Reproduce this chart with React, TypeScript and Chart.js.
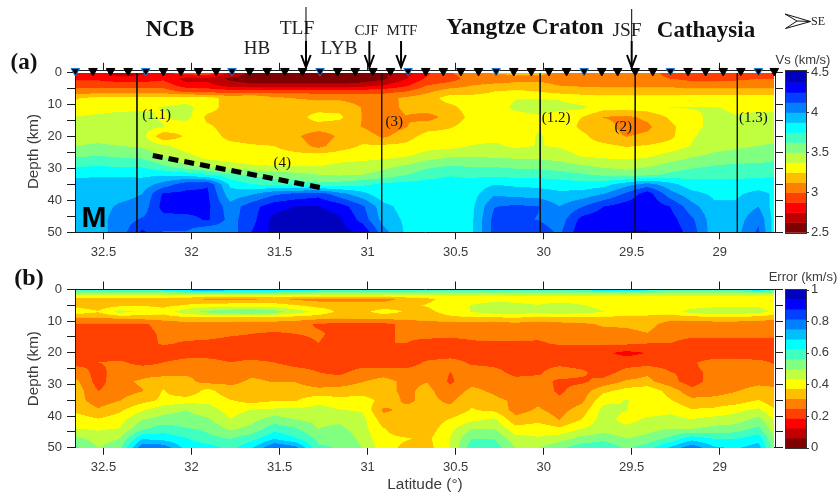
import React, { useEffect, useRef } from "react";
import { Chart, registerables } from "chart.js";

Chart.register(...registerables);

const latitudes = [32.66,32.53,32.41,32.28,32.16,32.03,31.91,31.78,31.66,31.53,31.41,31.28,31.16,31.03,30.91,30.78,30.66,30.53,30.41,30.28,30.16,30.03,29.91,29.78,29.66,29.53,29.41,29.28,29.16,29.03,28.91,28.78,28.68];
const vsDepths = [0,2,4,6,8,11,14,17,20,23,26,29,32,35,38,42,46,50];
const vsGrid = [
[2.82,2.8,2.66,2.72,2.85,2.95,3.0,2.75,2.6,2.55,2.55,2.55,2.55,2.55,2.6,2.7,2.85,3.0,3.05,3.15,3.15,3.15,3.1,3.1,3.1,3.1,3.05,2.95,2.9,2.9,2.9,2.9,2.9],
[2.85,2.85,2.8,2.8,2.85,2.7,2.7,2.6,2.55,2.55,2.55,2.55,2.55,2.55,2.6,2.75,2.9,2.95,3.05,3.05,3.1,3.1,3.1,3.05,3.0,3.05,3.05,3.0,2.97,2.97,2.98,3.0,3.0],
[2.95,2.95,2.95,2.95,2.95,2.8,2.8,2.68,2.66,2.65,2.65,2.65,2.65,2.68,2.75,2.85,3.0,3.05,3.12,3.15,3.15,3.15,3.12,3.1,3.1,3.1,3.1,3.1,3.05,3.05,3.05,3.05,3.05],
[3.06,3.06,3.06,3.06,3.06,2.98,2.95,2.95,2.95,2.95,2.95,2.95,2.95,2.95,2.96,3.0,3.1,3.2,3.2,3.25,3.28,3.25,3.2,3.2,3.18,3.18,3.18,3.18,3.2,3.2,3.2,3.2,3.2],
[3.24,3.28,3.3,3.3,3.3,3.3,3.3,3.2,3.25,3.15,3.12,3.1,3.1,3.08,3.08,3.15,3.2,3.3,3.3,3.3,3.37,3.37,3.36,3.3,3.3,3.3,3.3,3.3,3.3,3.3,3.3,3.3,3.3],
[3.3,3.32,3.34,3.36,3.38,3.42,3.3,3.2,3.2,3.2,3.2,3.2,3.2,3.12,3.07,3.15,3.2,3.22,3.3,3.32,3.4,3.42,3.42,3.4,3.3,3.3,3.32,3.38,3.38,3.38,3.36,3.33,3.33],
[3.38,3.4,3.42,3.4,3.36,3.42,3.22,3.2,3.2,3.2,3.2,3.3,3.28,3.12,3.06,3.12,3.07,3.18,3.28,3.32,3.33,3.36,3.3,3.25,3.12,3.1,3.15,3.27,3.35,3.4,3.38,3.42,3.42],
[3.44,3.44,3.45,3.42,3.38,3.3,3.27,3.2,3.2,3.2,3.2,3.2,3.18,3.12,3.04,3.12,3.2,3.24,3.3,3.3,3.32,3.37,3.34,3.22,3.18,3.08,3.1,3.22,3.33,3.42,3.44,3.44,3.44],
[3.44,3.45,3.44,3.42,3.15,3.27,3.3,3.22,3.2,3.2,3.15,3.04,3.15,3.2,3.1,3.2,3.3,3.3,3.32,3.33,3.34,3.38,3.36,3.28,3.18,3.12,3.15,3.22,3.36,3.44,3.44,3.44,3.46],
[3.5,3.52,3.5,3.48,3.4,3.32,3.3,3.28,3.26,3.25,3.2,3.08,3.2,3.26,3.27,3.28,3.33,3.33,3.38,3.4,3.35,3.38,3.36,3.3,3.28,3.24,3.26,3.3,3.38,3.46,3.48,3.5,3.52],
[3.6,3.62,3.6,3.58,3.48,3.4,3.33,3.32,3.3,3.29,3.28,3.3,3.3,3.31,3.32,3.36,3.42,3.47,3.48,3.47,3.46,3.46,3.44,3.36,3.34,3.32,3.35,3.42,3.48,3.52,3.54,3.56,3.58],
[3.72,3.74,3.72,3.72,3.62,3.5,3.44,3.4,3.38,3.36,3.35,3.36,3.4,3.42,3.46,3.5,3.58,3.62,3.6,3.6,3.58,3.56,3.54,3.5,3.46,3.45,3.47,3.54,3.58,3.62,3.64,3.64,3.66],
[3.85,3.86,3.86,3.85,3.85,3.83,3.75,3.65,3.6,3.56,3.54,3.5,3.48,3.5,3.54,3.62,3.7,3.74,3.72,3.72,3.7,3.7,3.68,3.64,3.6,3.55,3.6,3.65,3.7,3.72,3.72,3.72,3.74],
[3.92,3.92,3.92,3.93,4.05,4.2,4.24,3.85,3.75,3.72,3.7,3.65,3.68,3.72,3.78,3.8,3.8,3.8,3.8,3.87,3.85,3.84,3.82,3.8,3.82,3.95,4.05,3.92,3.8,3.78,3.79,3.8,3.8],
[3.93,3.94,3.95,4.0,4.27,4.28,4.27,3.92,3.98,4.1,4.15,4.2,4.05,3.92,3.78,3.78,3.78,3.8,3.82,3.98,3.95,3.93,3.9,3.92,4.0,4.15,4.32,4.05,3.92,3.85,3.85,3.92,3.85],
[3.94,3.95,4.02,4.05,4.3,4.32,4.28,4.05,4.2,4.33,4.38,4.38,4.32,4.15,3.92,3.82,3.78,3.8,3.84,4.12,4.15,4.13,4.0,4.12,4.25,4.32,4.34,4.25,4.05,3.9,3.9,4.0,3.8],
[3.95,3.96,4.05,4.14,4.2,4.2,4.27,4.08,4.2,4.42,4.44,4.44,4.4,4.2,3.95,3.85,3.78,3.8,3.85,4.17,4.15,4.12,4.05,4.3,4.34,4.34,4.35,4.3,4.15,3.92,3.93,4.1,3.8],
[3.95,3.96,4.05,4.28,4.12,4.12,4.0,4.05,4.25,4.42,4.44,4.44,4.42,4.36,4.05,3.85,3.78,3.8,3.85,4.17,4.25,4.2,4.1,4.35,4.38,4.38,4.38,4.33,4.2,3.92,3.95,4.15,3.78],
];

const errDepths = [0,1.5,3,5,7,9,11,14,17,20,23,26,29,32,35,38,41,44,47,50];
const errGrid = [
[.62,.62,.64,.64,.66,.72,.78,.72,.72,.72,.7,.66,.65,.65,.65,.64,.62,.62,.62,.62,.62,.62,.62,.64,.7,.72,.66,.6,.6,.6,.6,.7,.6],
[.46,.46,.46,.46,.46,.46,.46,.46,.46,.46,.46,.46,.46,.46,.46,.46,.45,.45,.45,.45,.45,.45,.45,.45,.45,.45,.45,.45,.45,.45,.45,.45,.45],
[.35,.35,.35,.35,.35,.34,.3,.3,.3,.33,.3,.29,.29,.29,.29,.33,.36,.4,.4,.41,.42,.41,.41,.41,.41,.41,.41,.41,.41,.41,.41,.41,.41],
[.36,.34,.36,.37,.36,.38,.4,.41,.41,.4,.38,.35,.35,.34,.34,.36,.38,.41,.44,.47,.45,.44,.46,.44,.42,.41,.41,.41,.41,.42,.42,.43,.41],
[.41,.38,.46,.43,.4,.48,.52,.55,.56,.53,.47,.42,.36,.36,.4,.37,.36,.4,.44,.47,.47,.46,.47,.46,.44,.42,.41,.41,.46,.48,.48,.46,.42],
[.31,.31,.32,.33,.34,.35,.35,.35,.35,.34,.34,.33,.32,.33,.33,.33,.34,.36,.36,.36,.37,.35,.36,.36,.36,.35,.35,.33,.34,.35,.35,.34,.32],
[.24,.24,.24,.24,.27,.29,.29,.29,.28,.29,.28,.24,.23,.23,.23,.27,.28,.28,.29,.28,.29,.28,.29,.3,.32,.32,.33,.29,.28,.28,.28,.28,.28],
[.23,.23,.23,.23,.26,.28,.28,.26,.25,.24,.25,.26,.23,.23,.24,.26,.27,.27,.27,.28,.28,.27,.28,.28,.29,.3,.31,.28,.27,.27,.27,.27,.27],
[.22,.22,.22,.22,.26,.24,.23,.22,.22,.22,.22,.25,.22,.22,.25,.25,.23,.22,.24,.24,.24,.24,.26,.26,.26,.26,.25,.25,.22,.22,.22,.22,.22],
[.21,.21,.21,.21,.2,.21,.21,.21,.2,.2,.2,.2,.2,.19,.19,.2,.21,.21,.21,.2,.21,.2,.2,.2,.2,.17,.19,.2,.2,.2,.2,.2,.21],
[.23,.25,.26,.23,.25,.28,.28,.25,.27,.25,.22,.22,.21,.21,.2,.22,.26,.28,.24,.23,.22,.23,.23,.22,.21,.22,.22,.22,.24,.28,.28,.27,.24],
[.28,.23,.28,.29,.28,.3,.3,.27,.3,.3,.28,.25,.23,.28,.29,.27,.28,.25,.28,.27,.23,.24,.28,.26,.22,.27,.3,.25,.24,.26,.29,.29,.28],
[.33,.22,.3,.32,.35,.33,.29,.3,.32,.31,.31,.28,.29,.31,.33,.3,.31,.24,.29,.29,.27,.27,.24,.24,.27,.32,.33,.27,.22,.28,.29,.3,.3],
[.35,.25,.29,.31,.38,.32,.4,.33,.33,.35,.34,.33,.33,.34,.33,.3,.33,.27,.33,.3,.25,.28,.24,.28,.36,.4,.42,.35,.27,.29,.31,.33,.32],
[.34,.28,.31,.35,.39,.41,.42,.38,.35,.37,.37,.42,.4,.41,.35,.3,.33,.3,.36,.33,.3,.3,.26,.3,.42,.44,.42,.38,.33,.33,.34,.38,.32],
[.36,.32,.36,.43,.48,.5,.47,.41,.44,.45,.45,.46,.44,.43,.3,.33,.32,.33,.38,.36,.29,.32,.29,.34,.46,.44,.4,.42,.38,.39,.42,.45,.38],
[.41,.38,.41,.5,.52,.52,.51,.44,.48,.53,.5,.48,.48,.46,.34,.34,.33,.38,.42,.45,.33,.35,.31,.38,.47,.41,.45,.46,.44,.46,.47,.52,.42],
[.44,.43,.44,.55,.6,.57,.55,.49,.52,.6,.57,.5,.52,.46,.38,.33,.34,.42,.5,.5,.4,.42,.39,.44,.47,.46,.48,.5,.5,.52,.53,.58,.45],
[.52,.47,.5,.68,.66,.63,.58,.56,.6,.68,.63,.55,.55,.48,.39,.38,.36,.44,.56,.56,.46,.44,.47,.52,.54,.5,.52,.58,.66,.62,.62,.66,.48],
[.58,.5,.54,.8,.8,.66,.66,.6,.68,.82,.78,.57,.56,.5,.4,.36,.35,.44,.6,.6,.5,.5,.55,.6,.62,.55,.6,.7,.8,.7,.68,.72,.5],
];

const latTicks = [32.5,32,31.5,31,30.5,30,29.5,29];
const depthTicks = [0,5,10,15,20,25,30,35,40,45,50];
const vsTicks = [2.5,3,3.5,4,4.5];
const errTicks = [0,0.2,0.4,0.6,0.8,1];
const jetBands = ["#7f0000","#bf0000","#ff0000","#ff4000","#ff8000","#ffbf00","#ffff00","#bfff40","#80ff80","#40ffbf","#00ffff","#00bfff","#0080ff","#0040ff","#0000ff","#0000bf"];

const stationLats = [32.66,32.56,32.46,32.36,32.26,32.16,32.06,31.96,31.86,31.77,31.67,31.57,31.47,31.37,31.27,31.17,31.07,30.97,30.87,30.77,30.67,30.57,30.47,30.37,30.27,30.17,30.07,29.97,29.87,29.77,29.67,29.58,29.48,29.38,29.28,29.18,29.08,28.98,28.88,28.78,28.69];
const blueStations = [32.66,32.26,31.77,31.27,30.77,30.27,29.77,29.28,28.78];
const profileLats = [32.31,30.92,30.02,29.48,28.9];
const mohoLats = [32.22,31.25];
const mohoDepths = [26,36.2];
const faultNames = ["TLF","CJF","MTF","JSF"];
const faultLats = [31.35,30.99,30.81,29.5];

const LEFT = 75, RIGHT = 775;
const SERIF = "'Liberation Serif'";
const SANS = "'Liberation Sans'";
const INK = "#1c1c1c";
const TXT = "#3a3a3a";

function hexRgb(h: string) {
  return [parseInt(h.slice(1,3),16),parseInt(h.slice(3,5),16),parseInt(h.slice(5,7),16)];
}
const jetRgb = jetBands.map(hexRgb);

function contourPlugin(depths: number[], grid: number[][], vMin: number, vMax: number, startDepth: number) {
  return {
    id: "contour",
    beforeDatasetsDraw(chart: any) {
      const { ctx, chartArea } = chart;
      const sx = chart.scales.x, sy = chart.scales.y;
      const x0 = chartArea.left + 0.6, x1 = chartArea.right - 1;
      const y0 = Math.max(sy.getPixelForValue(startDepth), chartArea.top + 0.6), y1 = chartArea.bottom;
      const SS = 2;
      const w = Math.round((x1 - x0) * SS), h = Math.round((y1 - y0) * SS);
      const off = document.createElement("canvas");
      off.width = w; off.height = h;
      const oc = off.getContext("2d")!;
      const img = oc.createImageData(w, h);
      const nC = latitudes.length, nR = depths.length;
      const colI = new Int32Array(w), colT = new Float64Array(w);
      for (let px = 0; px < w; px++) {
        const lat = sx.getValueForPixel(x0 + (px + 0.5) / SS);
        let i = 0;
        while (i < nC - 2 && lat < latitudes[i + 1]) i++;
        colI[px] = i;
        colT[px] = Math.min(1, Math.max(0, (latitudes[i] - lat) / (latitudes[i] - latitudes[i + 1])));
      }
      for (let py = 0; py < h; py++) {
        const d = sy.getValueForPixel(y0 + (py + 0.5) / SS);
        let j = 0;
        while (j < nR - 2 && d > depths[j + 1]) j++;
        const u = Math.min(1, Math.max(0, (d - depths[j]) / (depths[j + 1] - depths[j])));
        for (let px = 0; px < w; px++) {
          const i = colI[px], t = colT[px];
          const a = grid[j][i] * (1 - t) + grid[j][i + 1] * t;
          const b = grid[j + 1][i] * (1 - t) + grid[j + 1][i + 1] * t;
          const v = a * (1 - u) + b * u;
          const k = Math.max(0, Math.min(15, Math.floor(((v - vMin) / (vMax - vMin)) * 16)));
          const c = jetRgb[k], o = (py * w + px) * 4;
          img.data[o] = c[0]; img.data[o + 1] = c[1]; img.data[o + 2] = c[2]; img.data[o + 3] = 255;
        }
      }
      oc.putImageData(img, 0, 0);
      ctx.save();
      ctx.imageSmoothingEnabled = true;
      ctx.drawImage(off, x0, y0, x1 - x0, y1 - y0);
      ctx.restore();
    },
  };
}

function colorbarPlugin(title: string, titleY: number, vMin: number, vMax: number, ticks: number[]) {
  return {
    id: "colorbar",
    afterDraw(chart: any) {
      const { ctx, chartArea } = chart;
      const s = chart.scales.cb;
      const bx = 786, bw = 20;
      ctx.save();
      jetBands.forEach((c, k) => {
        const lo = vMin + ((vMax - vMin) * k) / 16, hi = vMin + ((vMax - vMin) * (k + 1)) / 16;
        const yLo = s.getPixelForValue(lo);
        const yHi = k === 15 ? chartArea.top : s.getPixelForValue(hi);
        ctx.fillStyle = c;
        ctx.fillRect(bx, yHi, bw, yLo - yHi + 0.5);
      });
      ctx.strokeStyle = "#333";
      ctx.lineWidth = 1;
      ctx.strokeRect(bx - 0.5, Math.round(chartArea.top) - 0.5, bw + 1, Math.round(chartArea.bottom - chartArea.top) + 1);
      ticks.forEach((v) => {
        const y = Math.round(s.getPixelForValue(v)) + 0.5;
        ctx.beginPath(); ctx.moveTo(bx + bw, y); ctx.lineTo(bx + bw + 3, y); ctx.stroke();
      });
      ctx.fillStyle = TXT;
      ctx.font = `13px ${SANS}`;
      ctx.textAlign = "center";
      ctx.textBaseline = "middle";
      ctx.fillText(title, 803, titleY);
      ctx.restore();
    },
  };
}

function txt(ctx: any, s: string, x: number, y: number, font: string, color = "#111") {
  ctx.font = font;
  ctx.fillStyle = color;
  ctx.textAlign = "center";
  ctx.textBaseline = "middle";
  ctx.fillText(s, x, y);
}

const annotationPlugin = {
  id: "annotations",
  afterDraw(chart: any) {
    const { ctx } = chart;
    const sx = chart.scales.x;
    ctx.save();
    txt(ctx, "NCB", 170, 30, `bold 23px ${SERIF}`);
    txt(ctx, "Yangtze Craton", 525, 28, `bold 23.5px ${SERIF}`);
    txt(ctx, "Cathaysia", 706, 31, `bold 23px ${SERIF}`);
    txt(ctx, "HB", 257, 49, `19px ${SERIF}`, "#222");
    txt(ctx, "LYB", 339, 49, `19.5px ${SERIF}`, "#222");
    txt(ctx, "(a)", 24, 63, `bold 23px ${SERIF}`);
    const labels: [string, number, number][] = [["(1.1)",156.7,115.5],["(3)",394.3,122.5],["(4)",282.3,163.5],["(1.2)",556,117.7],["(2)",623.3,126.7],["(1.3)",753.3,117.7]];
    labels.forEach(([s, x, y]) => txt(ctx, s, x, y, `15px ${SERIF}`));
    txt(ctx, "M", 94, 219, `bold 30px ${SANS}`, "#000");

    const faultText: Record<string, [number, number, number, number]> = {
      TLF: [297, 29, 19.5, 7], CJF: [366.5, 31, 15, 41], MTF: [402, 31, 15, 41], JSF: [627, 31, 19.4, 9],
    };
    faultNames.forEach((n, i) => {
      const x = sx.getPixelForValue(faultLats[i]);
      const [tx, ty, fs, topY] = faultText[n];
      txt(ctx, n, tx, ty, `${fs}px ${SERIF}`, "#222");
      ctx.strokeStyle = "#000";
      ctx.lineWidth = 1;
      ctx.beginPath(); ctx.moveTo(x, topY); ctx.lineTo(x, 41); ctx.stroke();
      ctx.lineWidth = 2;
      ctx.beginPath(); ctx.moveTo(x, 41); ctx.lineTo(x, 67); ctx.stroke();
      ctx.beginPath(); ctx.moveTo(x - 4.7, 55); ctx.lineTo(x, 67.5); ctx.lineTo(x + 4.7, 55); ctx.stroke();
    });

    ctx.strokeStyle = "#111";
    ctx.fillStyle = "#fff";
    ctx.lineWidth = 1;
    ctx.beginPath();
    ctx.moveTo(785, 14); ctx.lineTo(810.5, 21.5); ctx.lineTo(785.5, 28.5); ctx.lineTo(797, 21); ctx.closePath();
    ctx.fill(); ctx.stroke();
    ctx.beginPath(); ctx.moveTo(797, 21); ctx.lineTo(810.5, 21.5); ctx.stroke();
    txt(ctx, "SE", 818, 22, `12px ${SERIF}`, "#222");
    ctx.restore();
  },
};

const labelB = {
  id: "labelB",
  afterDraw(chart: any) {
    chart.ctx.save();
    txt(chart.ctx, "(b)", 29, 17, `bold 24px ${SERIF}`);
    chart.ctx.restore();
  },
};

function fixedTicks(values: number[]) {
  return (scale: any) => { scale.ticks = values.map((value) => ({ value })); };
}

function fitBox(w?: number, h?: number) {
  return (s: any) => {
    if (w !== undefined) s.width = w;
    if (h !== undefined) s.height = h;
    s.paddingTop = 0; s.paddingBottom = 0; s.paddingLeft = 0; s.paddingRight = 0;
  };
}

function buildConfig(o: {
  depths: number[]; grid: number[][]; yMin: number; topPx: number; bottomPx: number; canvasH: number; bottomPad: number;
  cbMin: number; cbMax: number; cbTicks: number[]; cbLabel: (v: number) => string; xTitle?: string; datasets: any[]; plugins: any[];
}) {
  const tickFont = { family: SANS, size: 13 };
  const gridOpts = { drawOnChartArea: false, tickLength: 8, tickColor: INK, tickWidth: 1 };
  const border = { display: true, color: INK, width: 1 };
  const nodes: any[] = [];
  o.depths.forEach((d, j) => latitudes.forEach((lat, i) => nodes.push({ x: lat, y: d, v: o.grid[j][i] })));
  return {
    type: "scatter",
    data: {
      datasets: [
        ...o.datasets,
        { label: "grid", data: nodes, pointRadius: 0, pointHoverRadius: 0, showLine: false, xAxisID: "x", yAxisID: "y" },
      ],
    },
    options: {
      responsive: false,
      animation: false,
      events: [],
      layout: { autoPadding: false, padding: { left: 25, right: 0, top: 0, bottom: o.bottomPad } },
      plugins: { legend: { display: false }, tooltip: { enabled: false } },
      scales: {
        x: {
          type: "linear", position: "bottom", reverse: true, min: 28.686, max: 32.662,
          afterBuildTicks: fixedTicks(latTicks),
          afterFit: fitBox(undefined, o.canvasH - o.bottomPad - o.bottomPx),
          grid: { ...gridOpts, tickLength: 7 }, border,
          ticks: { font: tickFont, color: TXT, padding: 5, autoSkip: false, maxRotation: 0, callback: (v: any) => String(v) },
          title: o.xTitle ? { display: true, text: o.xTitle, color: TXT, font: { family: SANS, size: 15.4 }, padding: 0 } : { display: false },
        },
        xTop: {
          type: "linear", position: "top", reverse: true, min: 28.686, max: 32.662,
          afterBuildTicks: fixedTicks(latTicks),
          afterFit: fitBox(undefined, o.topPx),
          grid: gridOpts, border, ticks: { display: false },
        },
        y: {
          type: "linear", position: "left", reverse: true, min: o.yMin, max: 50,
          afterBuildTicks: fixedTicks(depthTicks),
          afterFit: fitBox(LEFT - 25),
          grid: gridOpts, border,
          ticks: { font: tickFont, color: TXT, padding: 5, autoSkip: false, callback: (v: any) => (v % 10 === 0 ? String(v) : "") },
          title: { display: true, text: "Depth (km)", color: TXT, font: { family: SANS, size: 15.2 }, padding: 0 },
        },
        yRight: {
          type: "linear", position: "right", reverse: true, min: o.yMin, max: 50, weight: 0,
          afterBuildTicks: fixedTicks(depthTicks),
          afterFit: fitBox(11),
          grid: gridOpts, border, ticks: { display: false },
        },
        cb: {
          type: "linear", position: "right", min: o.cbMin, max: o.cbMax, weight: 1,
          afterBuildTicks: fixedTicks(o.cbTicks),
          afterFit: fitBox(840 - RIGHT - 11),
          grid: { display: false, drawTicks: false }, border: { display: false },
          ticks: { font: tickFont, color: TXT, padding: 25, autoSkip: false, callback: (v: any) => o.cbLabel(Number(v)) },
        },
      },
    },
    plugins: o.plugins,
  } as any;
}

export default function App() {
  const refA = useRef<HTMLCanvasElement>(null);
  const refB = useRef<HTMLCanvasElement>(null);
  useEffect(() => {
    const isBlue = (lat: number) => blueStations.includes(lat);
    const stations = {
      label: "stations",
      data: stationLats.map((lat) => ({ x: lat, y: -0.45 })),
      pointStyle: "triangle",
      rotation: 180,
      pointRadius: 5,
      pointBackgroundColor: "#000",
      pointBorderColor: stationLats.map((l) => (isBlue(l) ? "#1f7fd0" : "#000")),
      pointBorderWidth: 1,
      showLine: false,
      clip: false,
    };
    const moho = {
      label: "moho",
      data: mohoLats.map((lat, i) => ({ x: lat, y: mohoDepths[i] })),
      showLine: true, borderColor: "#000", borderWidth: 5, borderDash: [10, 6], pointRadius: 0,
    };
    const profiles = profileLats.map((lat, i) => ({
      label: "profile" + i,
      data: [{ x: lat, y: 0.3 }, { x: lat, y: 50 }],
      showLine: true, borderColor: "#111", borderWidth: 0.9, pointRadius: 0,
    }));
    const a = new Chart(refA.current!, buildConfig({
      depths: vsDepths, grid: vsGrid, yMin: -0.5, topPx: 70.8, bottomPx: 232.3, canvasH: 262, bottomPad: 0,
      cbMin: 2.5, cbMax: 4.52, cbTicks: vsTicks, cbLabel: (v) => String(v),
      datasets: [stations, moho, ...profiles],
      plugins: [contourPlugin(vsDepths, vsGrid, 2.5, 4.5, 0.3), colorbarPlugin("Vs (km/s)", 60, 2.5, 4.5, vsTicks), annotationPlugin],
    }));
    const b = new Chart(refB.current!, buildConfig({
      depths: errDepths, grid: errGrid, yMin: 0, topPx: 27.5, bottomPx: 185.8, canvasH: 235, bottomPad: 3,
      cbMin: 0, cbMax: 1, cbTicks: errTicks, cbLabel: (v) => String(v), xTitle: "Latitude (°)",
      datasets: [],
      plugins: [contourPlugin(errDepths, errGrid, 0, 1, 0), colorbarPlugin("Error (km/s)", 15.7, 0, 1, errTicks), labelB],
    }));
    return () => { a.destroy(); b.destroy(); };
  }, []);
  return (
    <div style={{ position: "absolute", left: 0, top: 0, width: 840, height: 497, background: "#fff", overflow: "hidden" }}>
      <canvas ref={refA} width={840} height={262} style={{ position: "absolute", left: 0, top: 0, display: "block" }} />
      <canvas ref={refB} width={840} height={235} style={{ position: "absolute", left: 0, top: 262, display: "block" }} />
    </div>
  );
}
